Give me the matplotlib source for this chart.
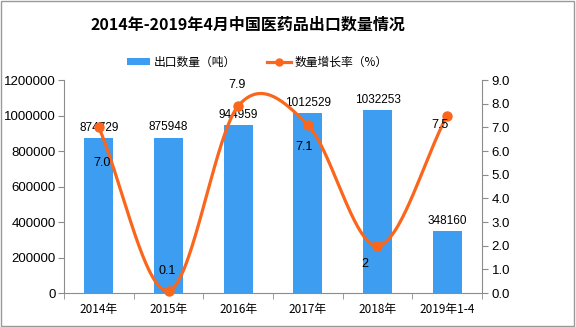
import numpy as np
import matplotlib
matplotlib.use("Agg")
import matplotlib.pyplot as plt
from matplotlib.lines import Line2D
from matplotlib.patches import Patch, Rectangle

plt.rcParams['font.family'] = ['Noto Sans CJK SC', 'DejaVu Sans']

categories = ["2014年", "2015年", "2016年", "2017年", "2018年", "2019年1-4"]
export_volume = [874729, 875948, 944959, 1012529, 1032253, 348160]
growth_rate = [7.0, 0.1, 7.9, 7.1, 2.0, 7.5]
growth_labels = ["7.0", "0.1", "7.9", "7.1", "2", "7.5"]
left_ticks = [0, 200000, 400000, 600000, 800000, 1000000, 1200000]
right_ticks = [0, 1, 2, 3, 4, 5, 6, 7, 8, 9]

BAR = '#3d9df0'
LINE = '#fa661c'
AX = '#8c8c8c'


def smooth_curve(x, y, n=60):
    """Catmull-Rom style Hermite smoothing through the given points."""
    x = np.asarray(x, float); y = np.asarray(y, float)
    k = len(x)
    m = np.zeros(k)
    for i in range(k):
        if i == 0:
            m[i] = (y[1] - y[0]) / (x[1] - x[0])
        elif i == k - 1:
            m[i] = (y[-1] - y[-2]) / (x[-1] - x[-2])
        else:
            m[i] = (y[i + 1] - y[i - 1]) / (x[i + 1] - x[i - 1])
    xs_all, ys_all = [], []
    for i in range(k - 1):
        h = x[i + 1] - x[i]
        t = np.linspace(0, 1, n)
        h00 = 2*t**3 - 3*t**2 + 1
        h10 = t**3 - 2*t**2 + t
        h01 = -2*t**3 + 3*t**2
        h11 = t**3 - t**2
        xs_all.append(x[i] + t*h)
        ys_all.append(h00*y[i] + h10*h*m[i] + h01*y[i+1] + h11*h*m[i+1])
    return np.concatenate(xs_all), np.concatenate(ys_all)


fig = plt.figure(figsize=(5.76, 3.27), dpi=100)
ax = fig.add_axes([64/576, 1 - 293/327, (482 - 64)/576, (293 - 80)/327])
ax2 = ax.twinx()

x = np.arange(len(categories))
ax.bar(x, export_volume, width=0.42, color=BAR, zorder=2)
ax.set_xlim(-0.5, len(categories) - 0.5)
ax.set_ylim(0, 1200000)
ax.set_yticks(left_ticks)
ax.set_yticklabels([str(v) for v in left_ticks], fontsize=9.5, family='Liberation Sans')
ax.set_xticks(x)
ax.set_xticklabels(categories, fontsize=8.5)
ax.set_xticks(np.arange(len(categories) + 1) - 0.5, minor=True)
ax.tick_params(axis='x', which='major', length=0, pad=7)
ax.tick_params(axis='x', which='minor', length=4, color=AX, direction='out')
ax.tick_params(axis='y', length=4, color=AX, direction='out', pad=2)

for xi, v in zip(x, export_volume):
    ax.annotate(str(v), (xi, v), xytext=(0, 3), textcoords='offset points',
                ha='center', va='bottom', fontsize=8.5, family='Liberation Sans')

xs, ys = smooth_curve(x, growth_rate)
ax2.plot(xs, ys, color=LINE, lw=2.3, zorder=3, solid_capstyle='round', clip_on=False)
ax2.plot(x, growth_rate, 'o', color=LINE, ms=6.5, zorder=4, clip_on=False)
ax2.set_ylim(0, 9)
ax2.set_yticks(right_ticks)
ax2.set_yticklabels([f"{v:.1f}" for v in right_ticks], fontsize=9.5, family='Liberation Sans')
ax2.tick_params(axis='y', length=4, color=AX, direction='out', pad=3)

offsets = [(2, -26), (-1, 14), (-1, 15), (-3, -16), (-9, -13), (-5, -7)]
for xi, v, lab, off in zip(x, growth_rate, growth_labels, offsets):
    ax2.annotate(lab, (xi, v), xytext=off, textcoords='offset points',
                 ha='center', va='center', fontsize=9, family='Liberation Sans', zorder=5)

for a in (ax, ax2):
    a.spines['top'].set_visible(False)
    a.spines['left'].set_color(AX)
    a.spines['right'].set_color(AX)
    a.spines['bottom'].set_color(AX)
ax.spines['right'].set_visible(False)
ax2.spines['left'].set_visible(False)
ax2.spines['bottom'].set_visible(False)

fig.text(248/576, 1 - 25/327, "2014年-2019年4月中国医药品出口数量情况",
         ha='center', va='center', fontsize=11.5, fontweight='bold')

handles = [Patch(facecolor=BAR, edgecolor='none'),
           Line2D([0], [0], color=LINE, lw=2.3, marker='o', ms=5)]
fig.legend(handles, ["出口数量（吨）", "数量增长率（%）"], loc='center',
           bbox_to_anchor=(257/576, 1 - 62/327), ncol=2, frameon=False,
           fontsize=8.5, handlelength=2.0, handleheight=0.5, columnspacing=2.6,
           handletextpad=0.3)

fig.patches.append(Rectangle((0.002, 0.004), 0.995, 0.992, transform=fig.transFigure,
                             fill=False, edgecolor='#999999', lw=1))

fig.savefig("out.png", dpi=100)
